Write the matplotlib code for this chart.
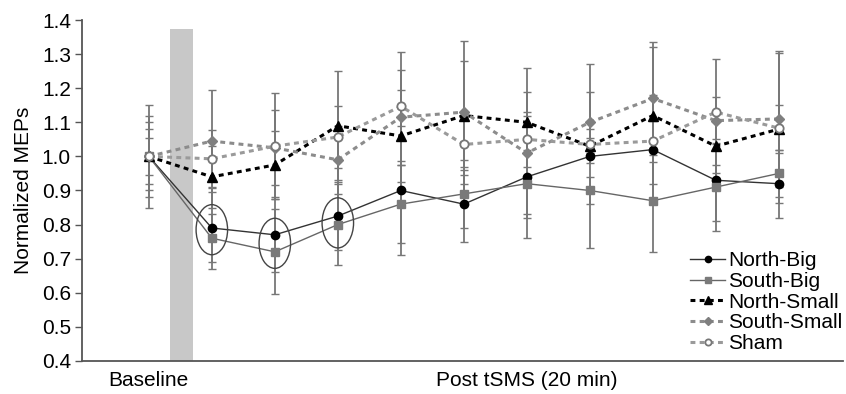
import numpy as np
import matplotlib.pyplot as plt
from matplotlib.patches import Ellipse

plt.rcParams['font.family'] = ['Liberation Sans', 'DejaVu Sans']

# time points: 0 = baseline, 1..10 = post tSMS
t = np.arange(11)

north_big   = [1.00, 0.79, 0.77, 0.825, 0.90, 0.86, 0.94, 1.00, 1.02, 0.93, 0.92]
south_big   = [1.00, 0.76, 0.72, 0.80, 0.86, 0.89, 0.92, 0.90, 0.87, 0.91, 0.95]
north_small = [1.00, 0.94, 0.975, 1.09, 1.06, 1.12, 1.10, 1.03, 1.12, 1.03, 1.08]
south_small = [1.00, 1.045, 1.025, 0.99, 1.115, 1.13, 1.01, 1.10, 1.17, 1.105, 1.11]
sham        = [1.00, 0.993, 1.03, 1.057, 1.147, 1.035, 1.05, 1.035, 1.045, 1.13, 1.083]

north_big_err   = [0.15, 0.12, 0.11, 0.10, 0.19, 0.11, 0.18, 0.27, 0.16, 0.12, 0.10]
south_big_err   = [0.12, 0.07, 0.125, 0.12, 0.115, 0.10, 0.10, 0.04, 0.15, 0.13, 0.07]
north_small_err = [0.08, 0.09, 0.10, 0.16, 0.135, 0.16, 0.16, 0.05, 0.20, 0.08, 0.07]
south_small_err = [0.10, 0.15, 0.11, 0.10, 0.14, 0.21, 0.18, 0.09, 0.165, 0.07, 0.20]
sham_err        = [0.055, 0.085, 0.155, 0.09, 0.16, 0.09, 0.08, 0.02, 0.06, 0.155, 0.22]

# stimulation period bar
stim_x = [0.33, 0.70]
stim_top = 1.375

# circled (significant) time points
circ_t = [1, 2, 3]
circ_y = [0.785, 0.745, 0.805]

fig = plt.figure(figsize=(8.46, 3.94), dpi=100)
ax = fig.add_axes([0.097, 0.084, 0.8995, 0.865])

ax.fill_between(stim_x, 0.4, stim_top, color='#c8c8c8', lw=0, zorder=0)

dots = (0, (1.6, 1.4))
series = [
    ('North-Big', north_big, north_big_err, dict(color='#333333', ls='-', lw=1.0, marker='o', ms=6,
                                                 mfc='black', mec='black')),
    ('South-Big', south_big, south_big_err, dict(color='#666666', ls='-', lw=1.0, marker='s', ms=6,
                                                 mfc='#7a7a7a', mec='#7a7a7a')),
    ('North-Small', north_small, north_small_err, dict(color='black', ls=dots, lw=2.2, marker='^', ms=7,
                                                       mfc='black', mec='black')),
    ('South-Small', south_small, south_small_err, dict(color='#8c8c8c', ls=dots, lw=2.2, marker='D', ms=5,
                                                       mfc='#7f7f7f', mec='#7f7f7f')),
    ('Sham', sham, sham_err, dict(color='#9a9a9a', ls=dots, lw=2.2, marker='o', ms=6,
                                  mfc='white', mec='#777777', mew=1.3)),
]

for name, y, e, st in series:
    ax.errorbar(t, y, yerr=e, fmt='none', ecolor='#777777', elinewidth=1.3, capsize=3, capthick=1.0, zorder=1)

for name, y, e, st in series:
    ax.plot(t, y, label=name, zorder=3, **st)

for cx, cy in zip(circ_t, circ_y):
    ax.add_patch(Ellipse((cx, cy), 0.5, 0.147, fill=False, edgecolor='#444444', lw=1.0, zorder=4))

ax.set_xlim(-1.06, 11.02)
ax.set_ylim(0.4, 1.4)
ax.set_yticks(np.arange(0.4, 1.41, 0.1))
ax.set_yticklabels(['%.1f' % v for v in np.arange(0.4, 1.41, 0.1)], fontsize=15)
ax.set_xticks([0, 6.0])
ax.set_xticklabels(['Baseline', 'Post tSMS (20 min)'], fontsize=15)
ax.tick_params(axis='x', length=0, pad=7)
ax.tick_params(axis='y', length=5, width=1, color='#555555', pad=3)
ax.set_ylabel('Normalized MEPs', fontsize=15, labelpad=6)

for s in ['top', 'right']:
    ax.spines[s].set_visible(False)
for s in ['left', 'bottom']:
    ax.spines[s].set_color('#555555')
    ax.spines[s].set_linewidth(1.3)

leg = ax.legend(loc='upper left', bbox_to_anchor=(0.816, 0.362), bbox_transform=fig.transFigure,
                frameon=False, fontsize=15, handlelength=1.65, handletextpad=0.15,
                labelspacing=0.08, borderpad=0, borderaxespad=0, markerscale=0.75)

fig.savefig('out.png', dpi=100)
